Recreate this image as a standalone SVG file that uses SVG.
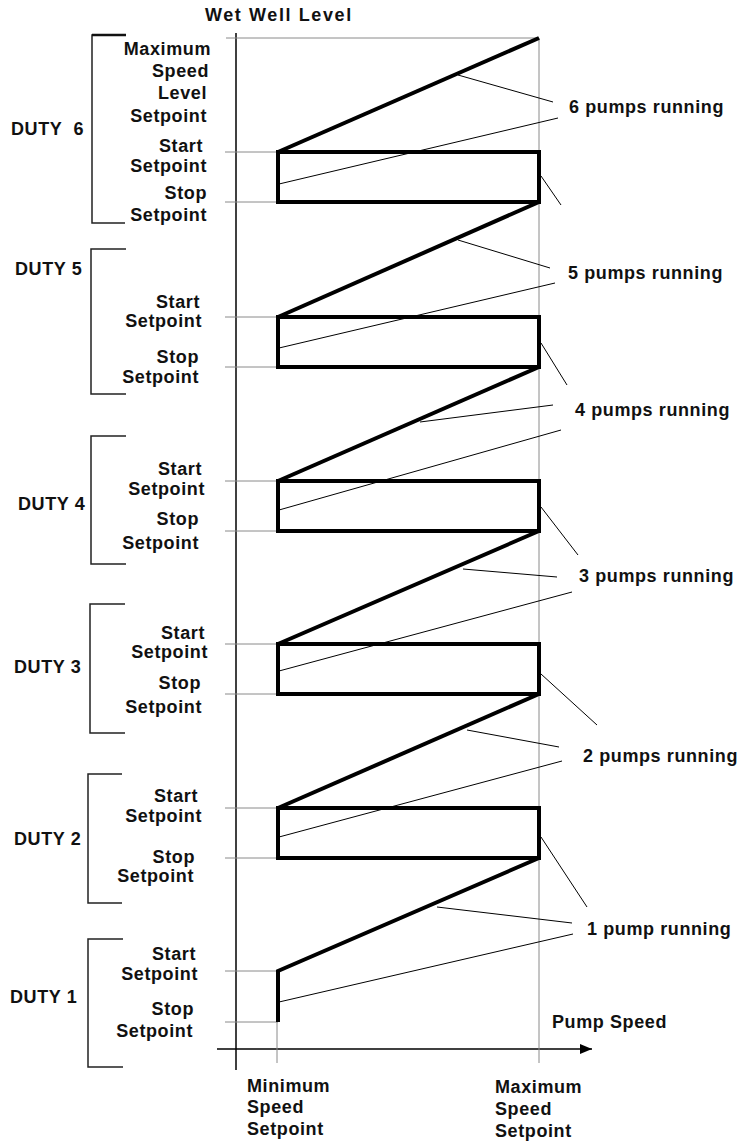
<svg xmlns="http://www.w3.org/2000/svg" width="738" height="1143" viewBox="0 0 738 1143">
<style>
text{font-family:"Liberation Sans",Arial,sans-serif;font-weight:bold;font-size:18px;fill:#111;letter-spacing:0.6px}
.r{text-anchor:end}
.g{stroke:#8a8a8a;stroke-width:1;fill:none}
.ax{stroke:#000;stroke-width:1.5;fill:none}
.br{stroke:#222;stroke-width:1.5;fill:none}
.thick{stroke:#000;stroke-width:4;fill:none;stroke-linejoin:miter}
.lead{stroke:#000;stroke-width:1;fill:none}
</style>
<defs>
<marker id="arr" viewBox="0 0 12 10" refX="12" refY="5" markerWidth="12" markerHeight="10" markerUnits="userSpaceOnUse" orient="auto">
<path d="M0,0 L12,5 L0,10 Z" fill="#000"/>
</marker>
</defs>
<rect width="738" height="1143" fill="#fff"/>

<g id="axes">
<text x="205" y="21" style="letter-spacing:1.6px">Wet Well Level</text>
<line class="ax" x1="236" y1="33" x2="236" y2="1070"/>
<line class="ax" x1="217" y1="1049" x2="592" y2="1049" marker-end="url(#arr)"/>
<line class="g" x1="226" y1="38" x2="539" y2="38"/>
<line class="g" x1="539" y1="38" x2="539" y2="1063"/>
<line class="g" x1="277" y1="1022" x2="277" y2="1063"/>
<text x="552" y="1028">Pump Speed</text>
</g>

<g id="min-speed">
<text x="247" y="1092">Minimum</text>
<text x="247" y="1113">Speed</text>
<text x="247" y="1135">Setpoint</text>
</g>
<g id="max-speed">
<text x="495" y="1093">Maximum</text>
<text x="495" y="1115">Speed</text>
<text x="495" y="1137">Setpoint</text>
</g>

<g id="duty6">
<path class="br" d="M126,35 H92 V223 H125"/>
<line x1="92" y1="35" x2="126" y2="35" stroke="#111" stroke-width="2.5"/>
<text x="11" y="135">DUTY&#160;&#160;6</text>
<text class="r" x="211" y="55">Maximum</text>
<text class="r" x="209" y="77">Speed</text>
<text class="r" x="207" y="99">Level</text>
<text class="r" x="207" y="122">Setpoint</text>
<text class="r" x="203" y="152">Start</text>
<text class="r" x="207" y="172">Setpoint</text>
<text class="r" x="207" y="199">Stop</text>
<text class="r" x="207" y="221">Setpoint</text>
<line class="g" x1="225" y1="152" x2="278" y2="152"/>
<line class="g" x1="225" y1="202" x2="278" y2="202"/>
</g>

<g id="duty5">
<path class="br" d="M126,249 H91 V394 H126"/>
<text x="15" y="275">DUTY 5</text>
<text class="r" x="200" y="308">Start</text>
<text class="r" x="202" y="327">Setpoint</text>
<text class="r" x="199" y="363">Stop</text>
<text class="r" x="199" y="383">Setpoint</text>
<line class="g" x1="225" y1="317" x2="278" y2="317"/>
<line class="g" x1="225" y1="367" x2="278" y2="367"/>
</g>

<g id="duty4">
<path class="br" d="M126,436 H91 V564 H126"/>
<text x="18" y="510">DUTY 4</text>
<text class="r" x="202" y="475">Start</text>
<text class="r" x="205" y="495">Setpoint</text>
<text class="r" x="199" y="525">Stop</text>
<text class="r" x="199" y="549">Setpoint</text>
<line class="g" x1="225" y1="481" x2="278" y2="481"/>
<line class="g" x1="225" y1="531" x2="278" y2="531"/>
</g>

<g id="duty3">
<path class="br" d="M125,604 H90 V733 H125"/>
<text x="14" y="673">DUTY 3</text>
<text class="r" x="205" y="639">Start</text>
<text class="r" x="208" y="658">Setpoint</text>
<text class="r" x="201" y="689">Stop</text>
<text class="r" x="202" y="713">Setpoint</text>
<line class="g" x1="225" y1="644" x2="278" y2="644"/>
<line class="g" x1="225" y1="694" x2="278" y2="694"/>
</g>

<g id="duty2">
<path class="br" d="M122,774 H88 V903 H122"/>
<text x="14" y="845">DUTY 2</text>
<text class="r" x="198" y="802">Start</text>
<text class="r" x="202" y="822">Setpoint</text>
<text class="r" x="195" y="863">Stop</text>
<text class="r" x="194" y="882">Setpoint</text>
<line class="g" x1="225" y1="808" x2="278" y2="808"/>
<line class="g" x1="225" y1="858" x2="278" y2="858"/>
</g>

<g id="duty1">
<path class="br" d="M123,939 H88 V1067 H123"/>
<text x="10" y="1003">DUTY 1</text>
<text class="r" x="196" y="960">Start</text>
<text class="r" x="198" y="980">Setpoint</text>
<text class="r" x="194" y="1015">Stop</text>
<text class="r" x="193" y="1037">Setpoint</text>
<line class="g" x1="225" y1="971" x2="278" y2="971"/>
<line class="g" x1="225" y1="1022" x2="278" y2="1022"/>
</g>

<g id="curve">
<path class="thick" d="M278,1022 V971 L539,858"/>
<rect class="thick" x="278" y="808" width="261" height="50"/>
<line class="thick" x1="278" y1="808" x2="539" y2="694"/>
<rect class="thick" x="278" y="644" width="261" height="50"/>
<line class="thick" x1="278" y1="644" x2="539" y2="531"/>
<rect class="thick" x="278" y="481" width="261" height="50"/>
<line class="thick" x1="278" y1="481" x2="539" y2="367"/>
<rect class="thick" x="278" y="317" width="261" height="50"/>
<line class="thick" x1="278" y1="317" x2="539" y2="202"/>
<rect class="thick" x="278" y="152" width="261" height="50"/>
<line class="thick" x1="278" y1="152" x2="539" y2="38"/>
</g>

<g id="label6"><text x="569" y="113">6 pumps running</text></g>
<g id="label5"><text x="568" y="279">5 pumps running</text></g>
<g id="label4"><text x="575" y="416">4 pumps running</text></g>
<g id="label3"><text x="579" y="582">3 pumps running</text></g>
<g id="label2"><text x="583" y="762">2 pumps running</text></g>
<g id="label1"><text x="587" y="935">1 pump running</text></g>

<g id="connectors">
<line class="lead" x1="458" y1="75" x2="553" y2="102"/>
<line class="lead" x1="279" y1="184" x2="558" y2="118"/>
<line class="lead" x1="541" y1="176" x2="561" y2="205"/>

<line class="lead" x1="458" y1="240" x2="550" y2="268"/>
<line class="lead" x1="279" y1="348" x2="555" y2="283"/>
<line class="lead" x1="541" y1="343" x2="567" y2="385"/>

<line class="lead" x1="420" y1="422" x2="553" y2="405"/>
<line class="lead" x1="279" y1="510" x2="561" y2="430"/>
<line class="lead" x1="541" y1="507" x2="578" y2="555"/>

<line class="lead" x1="463" y1="569" x2="557" y2="577"/>
<line class="lead" x1="279" y1="671" x2="572" y2="592"/>
<line class="lead" x1="541" y1="674" x2="597" y2="725"/>

<line class="lead" x1="467" y1="730" x2="559" y2="747"/>
<line class="lead" x1="279" y1="837" x2="562" y2="761"/>
<line class="lead" x1="541" y1="837" x2="587" y2="907"/>

<line class="lead" x1="437" y1="907" x2="572" y2="923"/>
<line class="lead" x1="279" y1="1002" x2="573" y2="934"/>
</g>
</svg>
